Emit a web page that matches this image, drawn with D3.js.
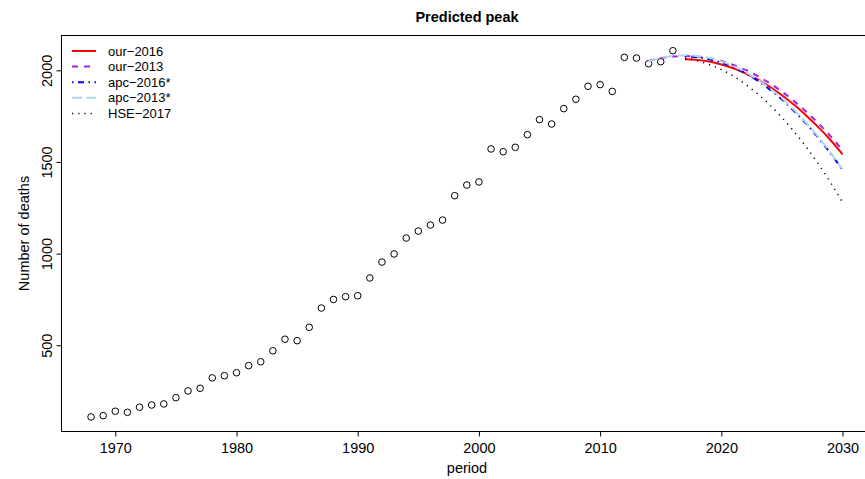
<!DOCTYPE html>
<html>
<head>
<meta charset="utf-8">
<script src="https://cdn.jsdelivr.net/npm/d3@7"></script>
<style>
  body { margin: 0; background: #fff; }
  text { font-family: "Liberation Sans", Arial, sans-serif; }
</style>
</head>
<body>
<div id="chart"></div>
<script>
// observed deaths per year
const years = d3.range(1968, 2017);
const deaths = [109, 116, 140, 134, 162, 174, 180, 214, 251, 265,
  322, 334, 350, 389, 410, 470, 533, 525, 598, 703,
  750, 765, 770, 867, 954, 998, 1085, 1123, 1156, 1183,
  1316, 1374, 1391, 1571, 1556, 1580, 1649, 1731, 1707, 1791,
  1842, 1913, 1922, 1885, 2071, 2067, 2036, 2047, 2107];

// projections
const our2016Years = d3.range(2017, 2031);
const our2016 = [2060, 2057, 2048, 2032, 2011, 1983, 1950, 1910, 1864, 1812, 1754, 1690, 1620, 1542];
const our2013Years = d3.range(2014, 2031);
const our2013 = [2051, 2066, 2075, 2078, 2075, 2066, 2051, 2029, 2002, 1969, 1929, 1884, 1832, 1774, 1711, 1641, 1565];
const apc2016Years = d3.range(2017, 2031);
const apc2016 = [2075, 2071, 2060, 2042, 2016, 1983, 1943, 1895, 1841, 1778, 1709, 1632, 1548, 1456];
const apc2013Years = d3.range(2014, 2031);
const apc2013 = [2049, 2067, 2078, 2082, 2078, 2067, 2049, 2023, 1990, 1950, 1902, 1847, 1784, 1714, 1637, 1552, 1460];
const hseYears = d3.range(2017, 2031);
const hse2017 = [2064, 2052, 2032, 2004, 1968, 1923, 1871, 1811, 1742, 1666, 1582, 1489, 1389, 1280];

const xTicks = [1970, 1980, 1990, 2000, 2010, 2020, 2030];
const yTicks = [500, 1000, 1500, 2000];

const series = [
  { name: 'our\u22122016', x: our2016Years, y: our2016, color: '#FF0000', dash: null, width: 2 },
  { name: 'our\u22122013', x: our2013Years, y: our2013, color: '#A020F0', dash: '6,6', width: 2 },
  { name: 'apc\u22122016*', x: apc2016Years, y: apc2016, color: '#0000FF', dash: '1.5,4.5,6,4.5', width: 2 },
  { name: 'apc\u22122013*', x: apc2013Years, y: apc2013, color: '#ADD8E6', dash: '10,4.5', width: 2 },
  { name: 'HSE\u22122017', x: hseYears, y: hse2017, color: '#000000', dash: '1.2,5', width: 1.5 },
];

const width = 865, height = 479;
const svg = d3.select('#chart').append('svg')
  .attr('width', width).attr('height', height);

const x = d3.scaleLinear().domain([1965.52, 2032.48]).range([61, 872.6]);
const y = d3.scaleLinear().domain([30, 2190]).range([431.4, 35.5]);

// plot box
svg.append('rect')
  .attr('x', 61.5).attr('y', 35.5)
  .attr('width', 812).attr('height', 396)
  .attr('fill', 'none').attr('stroke', '#000').attr('stroke-width', 1);

// x axis
const xAxis = svg.append('g')
  .attr('transform', 'translate(0,431.5)')
  .call(d3.axisBottom(x).tickValues(xTicks).tickFormat(d3.format('d')).tickSize(5).tickPadding(6));
xAxis.select('.domain').remove();
xAxis.selectAll('text').attr('font-size', 14.5).attr('fill', '#000');

// y axis, labels rotated like R's default
const yAxis = svg.append('g')
  .attr('transform', 'translate(61.5,0)')
  .call(d3.axisLeft(y).tickValues(yTicks).tickFormat(d3.format('d')).tickSize(5));
yAxis.select('.domain').remove();
yAxis.selectAll('.tick text')
  .attr('font-size', 14.5).attr('fill', '#000')
  .attr('text-anchor', 'middle')
  .attr('x', 0).attr('y', 0).attr('dy', 0)
  .attr('transform', 'translate(-9.5,0) rotate(-90)');

// titles
svg.append('text').attr('x', 467).attr('y', 22)
  .attr('text-anchor', 'middle').attr('font-weight', 'bold').attr('font-size', 14.5)
  .text('Predicted peak');
svg.append('text').attr('x', 467).attr('y', 473)
  .attr('text-anchor', 'middle').attr('font-size', 14.5)
  .text('period');
svg.append('text')
  .attr('transform', 'translate(29,233.5) rotate(-90)')
  .attr('text-anchor', 'middle').attr('font-size', 14.5)
  .text('Number of deaths');

// observed points
svg.append('g').selectAll('circle')
  .data(years.map((yr, i) => [yr, deaths[i]]))
  .join('circle')
  .attr('cx', d => x(d[0]))
  .attr('cy', d => y(d[1]))
  .attr('r', 3.3)
  .attr('fill', 'none')
  .attr('stroke', '#000')
  .attr('stroke-width', 1);

// projection lines
const line = d3.line().x(d => x(d[0])).y(d => y(d[1])).curve(d3.curveMonotoneX);
series.forEach(s => {
  svg.append('path')
    .datum(s.x.map((yr, i) => [yr, s.y[i]]))
    .attr('d', line)
    .attr('fill', 'none')
    .attr('stroke', s.color)
    .attr('stroke-width', s.width)
    .attr('stroke-dasharray', s.dash);
});

// legend
const legend = svg.append('g');
series.forEach((s, i) => {
  const ly = 51 + i * 15.6;
  legend.append('line')
    .attr('x1', 72).attr('x2', 96).attr('y1', ly).attr('y2', ly)
    .attr('stroke', s.color).attr('stroke-width', s.width)
    .attr('stroke-dasharray', s.dash);
  legend.append('text')
    .attr('x', 108).attr('y', ly).attr('dy', '0.35em')
    .attr('font-size', 13)
    .text(s.name);
});
</script>
</body>
</html>
